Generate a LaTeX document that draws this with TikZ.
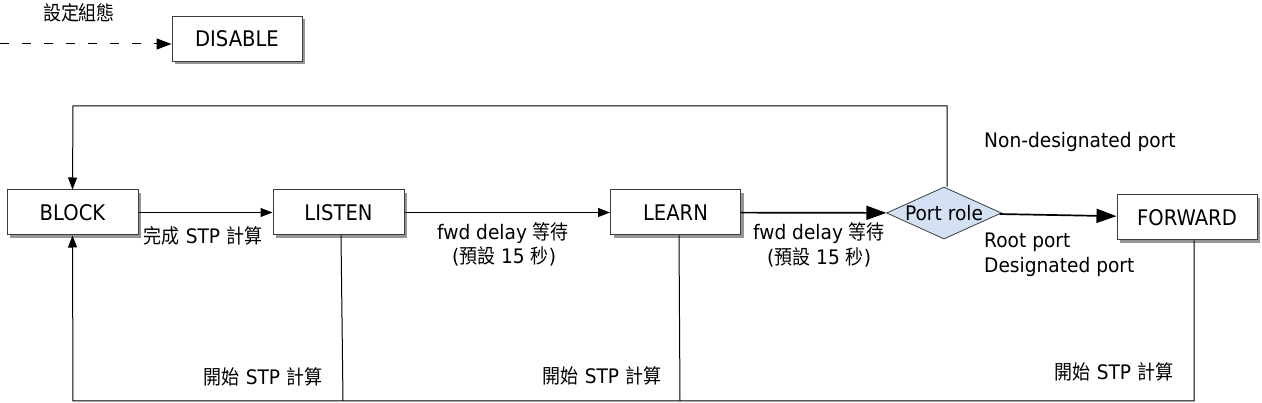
\documentclass[tikz,border=0pt]{standalone}
\usepackage{fontspec}
\setmainfont{DejaVu Sans}[FakeStretch=0.93]
\newfontfamily\boxfont{DejaVu Sans}[FakeStretch=0.91]
\newfontfamily\cjkfont{Noto Sans CJK TC}[FakeStretch=0.9]
\newcommand\zhtxt[1]{{\cjkfont #1}}
\usetikzlibrary{arrows.meta,shapes.geometric,shadows,calc}
\definecolor{diafill}{RGB}{212,225,245}
\definecolor{boxline}{RGB}{60,60,60}
\definecolor{shadowgray}{RGB}{150,150,150}
\begin{document}
\begin{tikzpicture}[x=1pt,y=-1pt,
  font=\fontsize{20}{24}\selectfont,
  statebox/.style={draw=boxline, line width=1pt, fill=white, minimum width=#1,
    minimum height=45pt, inner sep=0pt, font=\boxfont\fontsize{21.5}{24}\selectfont,
    drop shadow={shadow xshift=3pt, shadow yshift=-3pt, fill=shadowgray, opacity=1}},
  rolebox/.style={diamond, draw=boxline, line width=0.8pt, fill=diafill, aspect=2.2,
    inner sep=0pt, minimum width=115pt, minimum height=52pt},
  conn/.style={draw=black, line width=1pt},
  thinarrow/.style={conn, -{Triangle[length=12pt,width=9pt]}},
  thickarrow/.style={draw=black, line width=1.7pt, -{Triangle[length=20pt,width=14pt]}},
  dasharrow/.style={conn, dash pattern=on 9pt off 13pt, -{Triangle[length=15pt,width=11pt]}},
  lbl/.style={inner sep=0pt}
]
\useasboundingbox (0,0) rectangle (1262,403);

% states
\node[statebox=130pt] (disable) at (237,39) {DISABLE};
\node[statebox=131pt] (block)   at (72.5,212.5) {BLOCK};
\node[statebox=131pt] (listen)  at (338.5,212.5) {LISTEN};
\node[statebox=130pt] (learn)   at (675.5,212.5) {LEARN};
\node[rolebox] (role) at (944,213) {Port role};
\node[statebox=140pt] (forward) at (1187,217.5) {FORWARD};

% coordinates
\coordinate (ds) at (0,44);
\coordinate (tl) at (73,106);
\coordinate (bl) at (73,401);
\coordinate (b1) at (343,401);
\coordinate (b2) at (680,401);

% connectors
\draw[dasharrow] (ds) -- (ds -| disable.west);
\draw[thinarrow] (block) -- (listen);
\draw[thinarrow] (listen) -- (learn);
\draw[thickarrow] (learn) -- (role);
\draw[thickarrow] (role) -- (forward);
\draw[thinarrow] ($(role.north)+(3,0)$) |- (tl) -- (block.north);
\draw[thinarrow] ($(forward.south)+(7,0)$) |- (bl) -- (block.south);
\draw[conn] ($(listen.south)+(2.5,0)$) -- (b1);
\draw[conn] ($(learn.south)+(3.5,0)$) -- (b2);

% labels
\node[lbl] (t0) at (79,12.5) {\zhtxt{設定組態}};
\node[lbl] (t1) at (203,236) {\zhtxt{完成} STP \zhtxt{計算}};
\node[lbl] (t2) at (503,233) {fwd delay \zhtxt{等待}};
\node[lbl] (t3) at (504,256) {(\zhtxt{預設} 15 \zhtxt{秒})};
\node[lbl] (t4) at (819,233) {fwd delay \zhtxt{等待}};
\node[lbl] (t5) at (819,257) {(\zhtxt{預設} 15 \zhtxt{秒})};
\node[lbl, anchor=west] (t6) at (984,242) {Root port};
\node[lbl, anchor=west] (t7) at (984,267) {Designated port};
\node[lbl, anchor=west] (t8) at (984,142) {Non-designated port};
\node[lbl] (t9) at (263,377) {\zhtxt{開始} STP \zhtxt{計算}};
\node[lbl] (t10) at (602,376) {\zhtxt{開始} STP \zhtxt{計算}};
\node[lbl] (t11) at (1114,372) {\zhtxt{開始} STP \zhtxt{計算}};
\end{tikzpicture}
\end{document}
